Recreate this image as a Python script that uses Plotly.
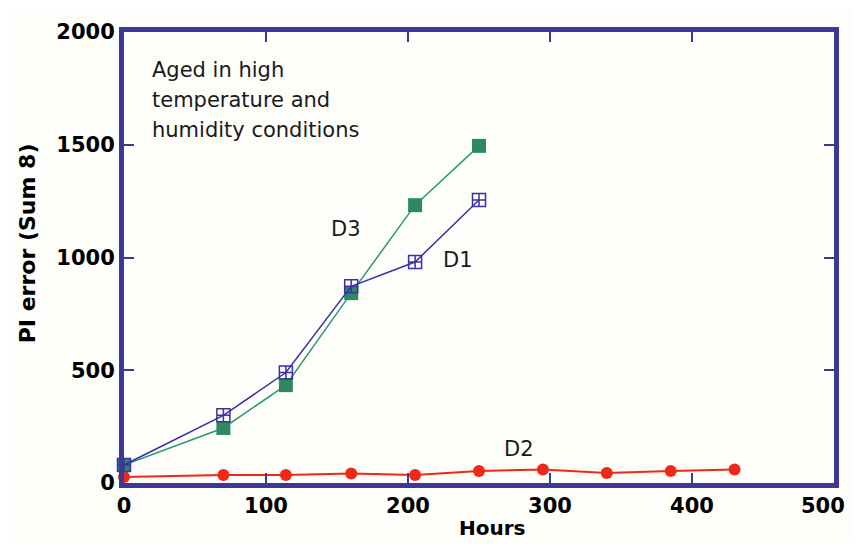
import plotly.graph_objects as go

hours_d1 = [0, 70, 114, 160, 205, 250]
pi_d1 = [80, 300, 490, 872, 980, 1255]

hours_d3 = [0, 70, 114, 160, 205, 250]
pi_d3 = [80, 244, 434, 842, 1232, 1495]

hours_d2 = [0, 70, 114, 160, 205, 250, 295, 340, 385, 430]
pi_d2 = [27, 35, 35, 42, 35, 53, 60, 44, 53, 60]

x_ticks = [0, 100, 200, 300, 400, 500]
x_tick_labels = ['0', '100', '200', '300', '400', '500']
y_ticks = [0, 500, 1000, 1500, 2000]
y_tick_labels = ['0', '500', '1000', '1500', '2000']

frame = '#3d3796'
bg = '#fdfdfa'
tick_font = dict(family='DejaVu Sans', size=21, color='#000000', weight='bold')

fig = go.Figure()
fig.add_trace(go.Scatter(x=hours_d2, y=pi_d2, mode='lines+markers', cliponaxis=False,
                         line=dict(color='#f02818', width=2),
                         marker=dict(symbol='circle', size=12, color='#f02818')))
fig.add_trace(go.Scatter(x=hours_d3, y=pi_d3, mode='lines+markers', cliponaxis=False,
                         line=dict(color='#2a9a72', width=1.5),
                         marker=dict(symbol='square', size=14, color='#2e8a5e')))
fig.add_trace(go.Scatter(x=hours_d1, y=pi_d1, mode='lines+markers', cliponaxis=False,
                         line=dict(color='#3a30a8', width=1.5),
                         marker=dict(symbol='square-cross-open', size=13, color='#3a30a8',
                                     line=dict(width=1.5))))

axis_common = dict(showline=True, linewidth=5, linecolor=frame, mirror='ticks',
                   ticks='inside', ticklen=10, tickwidth=1.5, tickcolor=frame,
                   showgrid=False, zeroline=False, tickfont=tick_font)

# the last x tick label sits at the page edge: draw it as an annotation so it stays inside the page
fig.update_xaxes(range=[0, 500], tickvals=x_ticks,
                 ticktext=x_tick_labels[:-1] + [''], **axis_common)
fig.update_yaxes(range=[0, 2000], tickvals=y_ticks, ticktext=y_tick_labels, **axis_common)
fig.add_annotation(text=x_tick_labels[-1], x=x_ticks[-1], xref='x', yref='paper', y=-(506 - 483) / 451,
                   xanchor='right', yanchor='middle', xshift=13, showarrow=False, font=tick_font)

fig.update_layout(
    width=843, height=532,
    margin=dict(l=116, r=15, t=24, b=57),
    paper_bgcolor=bg, plot_bgcolor=bg,
    showlegend=False,
    font=dict(family='DejaVu Sans'),
)

txt_font = dict(family='DejaVu Sans', size=21, color='#1a1a1a')
for i, line in enumerate(['Aged in high', 'temperature and', 'humidity conditions']):
    fig.add_annotation(text=line, xref='paper', yref='paper', x=(150 - 124) / 712,
                       y=(483 - 70 - i * 30) / 451, xanchor='left', yanchor='middle',
                       showarrow=False, font=txt_font)

fig.add_annotation(text='D3', x=156, y=1125, showarrow=False, font=txt_font)
fig.add_annotation(text='D1', x=235, y=990, showarrow=False, font=txt_font)
fig.add_annotation(text='D2', x=278, y=150, showarrow=False, font=txt_font)

fig.add_annotation(text='<b>Hours</b>', xref='paper', yref='paper', x=(493 - 124) / 712,
                   y=-(528 - 483) / 451, xanchor='center', yanchor='middle', showarrow=False,
                   font=dict(family='DejaVu Sans', size=20, color='#000000'))
fig.add_annotation(text='<b>PI error (Sum 8)</b>', xref='paper', yref='paper',
                   x=-(124 - 27) / 712, y=(483 - 243) / 451, textangle=-90,
                   xanchor='center', yanchor='middle', showarrow=False,
                   font=dict(family='DejaVu Sans', size=22, color='#000000'))

fig.write_html('out.html')
